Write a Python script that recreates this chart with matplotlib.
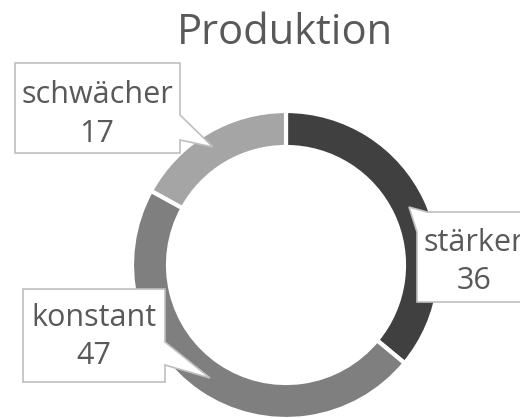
import matplotlib
matplotlib.use("Agg")
import matplotlib.pyplot as plt
from matplotlib.patches import Polygon

categories = ["stärker", "konstant", "schwächer"]
values = [36, 47, 17]
colors = ["#404040", "#7f7f7f", "#a5a5a5"]
title = "Produktion"

W, H = 520, 418
TEXT = "#595959"
plt.rcParams["font.family"] = ["Open Sans", "DejaVu Sans"]

fig = plt.figure(figsize=(W / 100, H / 100), dpi=100)
ax = fig.add_axes([0, 0, 1, 1])


def flip(points):
    # pixel coords measured from the top, turned into axis coords
    return [(x, H - y) for x, y in points]


ax.pie(values, colors=colors, startangle=90, counterclock=False,
       radius=154, center=(286, H - 265),
       wedgeprops=dict(width=36, edgecolor="white", linewidth=3))

# callout outlines (with pointer) and where their two text lines sit
callouts = {
    "schwächer": ([(15, 63), (180, 63), (180, 115), (213, 147), (180, 140), (180, 153), (15, 153)],
                  (97, 95), (97, 134)),
    "stärker": ([(409, 207), (427, 212), (530, 212), (530, 302), (417, 302), (417, 232)],
                (474, 243), (474, 281)),
    "konstant": ([(23, 289), (165, 289), (165, 342), (210, 378), (165, 365), (165, 382), (23, 382)],
                 (94, 318), (94, 356)),
}

for name, (outline, label_xy, value_xy) in callouts.items():
    ax.add_patch(Polygon(flip(outline), closed=True, facecolor="white",
                         edgecolor="#bfbfbf", linewidth=1.2, zorder=3))
    value = values[categories.index(name)]
    ax.text(label_xy[0], H - label_xy[1], name, ha="center", va="center",
            fontsize=22, color=TEXT, zorder=4)
    ax.text(value_xy[0], H - value_xy[1], str(value), ha="center", va="center",
            fontsize=22, color=TEXT, zorder=4)

ax.text(285, H - 33, title, ha="center", va="center", fontsize=30, color=TEXT)

ax.set_xlim(0, W)
ax.set_ylim(0, H)
ax.set_aspect("auto")
ax.axis("off")

fig.savefig("out.png", dpi=100)
